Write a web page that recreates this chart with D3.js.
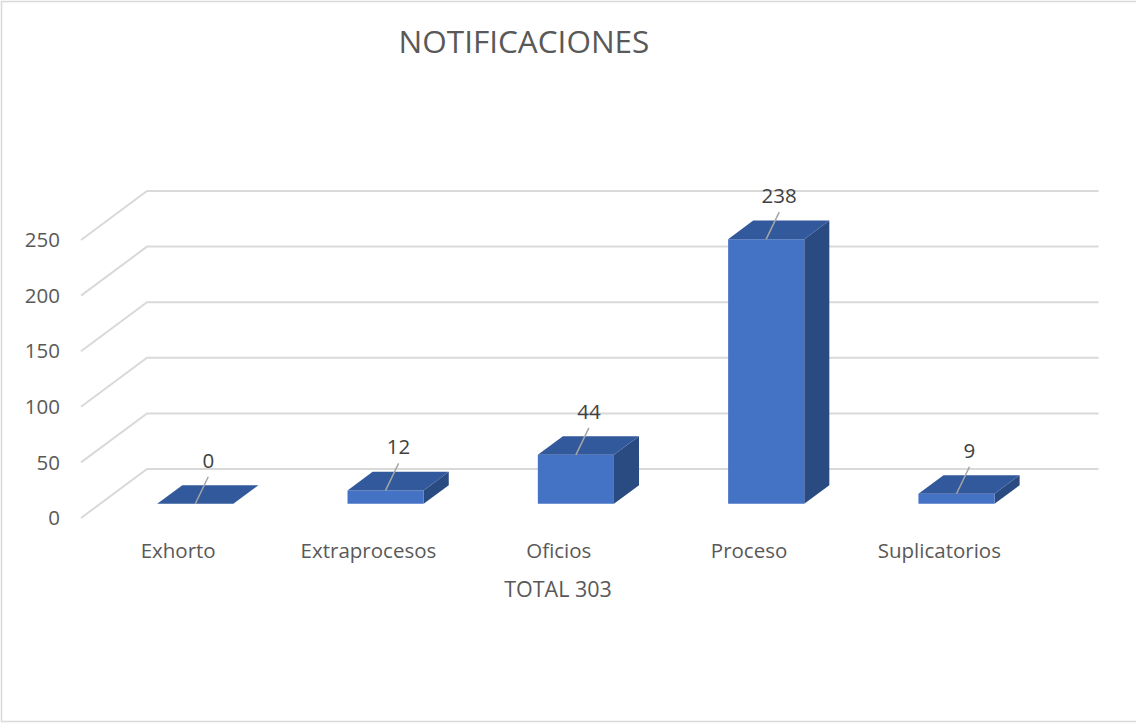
<!DOCTYPE html>
<html>
<head>
<meta charset="utf-8">
<script src="https://cdn.jsdelivr.net/npm/d3@7"></script>
<style>
  html, body { margin: 0; padding: 0; background: #fff; }
  svg { display: block; }
  text { font-family: "Open Sans", Lato, sans-serif; }
</style>
</head>
<body>
<svg id="chart" width="1136" height="724"></svg>
<script>
const title = "NOTIFICACIONES";
const axisTitle = "TOTAL 303";
const categories = ["Exhorto", "Extraprocesos", "Oficios", "Proceso", "Suplicatorios"];
const values = [0, 12, 44, 238, 9];
const yTicks = [0, 50, 100, 150, 200, 250];

const W = 1136, H = 724;
const svg = d3.select("#chart");

// border
svg.append("rect").attr("x", 1.5).attr("y", 1.5).attr("width", 1140).attr("height", 720)
  .attr("fill", "#fff").attr("stroke", "#d9d9d9").attr("stroke-width", 1.5);

// projection params
const floorLeft = 81, floorRight = 1032.5;
const depthDX = 66, depthDY = -49;
const zFront = 0.29, zBack = 0.67;

const x = d3.scaleBand().domain(categories).range([floorLeft, floorRight])
  .paddingInner(0.6).paddingOuter(0.3);
const y = d3.scaleLinear().domain([0, 250]).range([518, 518 - 278]);

const proj = (px, py, z) => [px + depthDX * z, py + depthDY * z];

// gridlines
const grid = svg.append("g");
yTicks.forEach(t => {
  const p0 = proj(floorLeft, y(t), 0);
  const p1 = proj(floorLeft, y(t), 1);
  const p2 = proj(floorRight, y(t), 1);
  grid.append("path")
    .attr("d", `M${p0[0]},${p0[1]}L${p1[0]},${p1[1]}L${p2[0]},${p2[1]}`)
    .attr("fill", "none").attr("stroke", "#d9d9d9").attr("stroke-width", 2);
});

// y tick labels
svg.append("g").selectAll("text").data(yTicks).join("text")
  .attr("x", 60).attr("y", d => y(d)).attr("dy", "0.35em")
  .attr("text-anchor", "end").attr("font-size", 20.5).attr("fill", "#595959")
  .text(d => d);

// bars
const bars = svg.append("g");
const line = pts => "M" + pts.map(p => p.join(",")).join("L") + "Z";
categories.forEach((c, i) => {
  const v = values[i];
  const x0 = x(c), x1 = x(c) + x.bandwidth();
  const yb = y(0), yt = y(v);
  const fbl = proj(x0, yb, zFront), fbr = proj(x1, yb, zFront);
  const ftl = proj(x0, yt, zFront), ftr = proj(x1, yt, zFront);
  const btl = proj(x0, yt, zBack), btr = proj(x1, yt, zBack);
  const bbr = proj(x1, yb, zBack);
  const g = bars.append("g");
  g.append("path").attr("d", line([fbr, ftr, btr, bbr])).attr("fill", "#2A4B82");
  g.append("path").attr("d", line([fbl, fbr, ftr, ftl])).attr("fill", "#4472C4");
  g.append("path").attr("d", line([ftl, ftr, btr, btl])).attr("fill", "#32599C");
  const cx = (ftl[0] + ftr[0]) / 2, cy = ftl[1];
  const lx = cx + 13, ly = cy - 27;
  g.append("line").attr("x1", cx).attr("y1", cy).attr("x2", lx).attr("y2", ly)
    .attr("stroke", "#a6a6a6").attr("stroke-width", 1.5);
  g.append("text").attr("x", lx).attr("y", ly - 9)
    .attr("text-anchor", "middle").attr("font-size", 20.5).attr("fill", "#404040")
    .text(v);
});

// category labels
svg.append("g").selectAll("text").data(categories).join("text")
  .attr("x", d => x(d) + x.bandwidth() / 2 + 2).attr("y", 558)
  .attr("text-anchor", "middle").attr("font-size", 20.5).attr("fill", "#595959")
  .text(d => d);

// axis title
svg.append("text").attr("x", 558).attr("y", 597).attr("text-anchor", "middle")
  .attr("font-size", 21.5).attr("fill", "#595959").text(axisTitle);

// title
svg.append("text").attr("x", 524).attr("y", 53).attr("text-anchor", "middle")
  .attr("font-size", 31.5).attr("fill", "#595959").text(title);
</script>
</body>
</html>
